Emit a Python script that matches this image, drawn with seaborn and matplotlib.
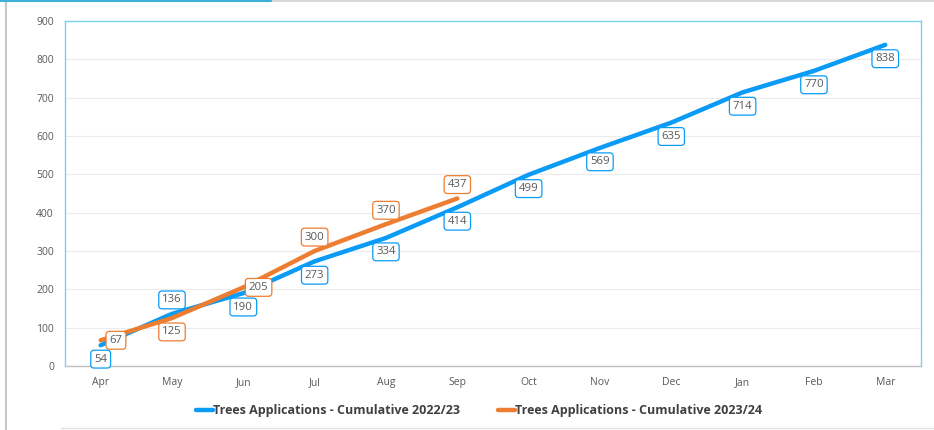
import matplotlib
matplotlib.use("Agg")
import matplotlib.pyplot as plt
import pandas as pd
import seaborn as sns

# dados
months = ["Apr", "May", "Jun", "Jul", "Aug", "Sep", "Oct", "Nov", "Dec", "Jan", "Feb", "Mar"]
cum_2223 = [54, 136, 190, 273, 334, 414, 499, 569, 635, 714, 770, 838]
cum_2324 = [67, 125, 205, 300, 370, 437]
label_2223 = "Trees Applications - Cumulative 2022/23"
label_2324 = "Trees Applications - Cumulative 2023/24"

# posicao dos rotulos (dx, dy em pontos)
offs_2223 = [(0, -10), (0, 10), (0, -10), (0, -10), (0, -10), (0, -10),
             (0, -10), (0, -10), (0, -10), (0, -10), (0, -10), (0, -10)]
offs_2324 = [(11, 0), (0, -10), (11, 0), (0, 10), (0, 10), (0, 10)]

blue = "#0A9BF7"
orange = "#ED7D31"

df = pd.concat([
    pd.DataFrame({"mes": months, "valor": cum_2223, "serie": label_2223}),
    pd.DataFrame({"mes": months[:len(cum_2324)], "valor": cum_2324, "serie": label_2324}),
])
df["x"] = df["mes"].map({m: i for i, m in enumerate(months)})

sns.set_style("white")
plt.rcParams["font.family"] = ["Open Sans", "DejaVu Sans"]

fig = plt.figure(figsize=(9.34, 4.3), dpi=100)
ax = fig.add_axes([0.0696, 0.149, 0.9164, 0.802])

sns.lineplot(data=df, x="x", y="valor", hue="serie",
             palette={label_2223: blue, label_2324: orange},
             linewidth=3.2, ax=ax, legend=False)

for serie, vals, offs, col in [(label_2223, cum_2223, offs_2223, blue),
                                (label_2324, cum_2324, offs_2324, orange)]:
    for i, (v, (dx, dy)) in enumerate(zip(vals, offs)):
        ax.annotate(str(v), (i, v), xytext=(dx, dy), textcoords="offset points",
                    ha="center", va="center", fontsize=8.2, color="#595959",
                    bbox=dict(boxstyle="round,pad=0.3,rounding_size=0.3",
                              fc="white", ec=col, lw=0.9))

ax.set_xlim(-0.5, len(months) - 0.5)
ax.set_ylim(0, 900)
ax.set_xticks(range(len(months)))
ax.set_xticklabels(months)
ax.set_yticks(range(0, 901, 100))
ax.tick_params(axis="both", labelsize=7.5, colors="#595959", length=0, pad=8)
ax.yaxis.grid(True, color="#EBEBEB", lw=0.8)
ax.set_axisbelow(True)
ax.set_xlabel("")
ax.set_ylabel("")
for s in ax.spines.values():
    s.set_color("#7FD0F0")
    s.set_linewidth(1.0)
ax.spines["bottom"].set_color("#BFBFBF")

# legenda
h1, = ax.plot([], [], color=blue, lw=3.2)
h2, = ax.plot([], [], color=orange, lw=3.2)
leg = fig.legend([h1, h2], [label_2223, label_2324], loc="center",
                 bbox_to_anchor=(0.513, 0.045), ncol=2, frameon=False,
                 handlelength=1.33, handletextpad=0.0, columnspacing=3.1,
                 prop={"size": 9, "weight": "bold"})
for t in leg.get_texts():
    t.set_color("#404040")

# moldura
fig.add_artist(plt.Line2D([0.006, 0.006], [0.0, 0.995], color="#C8C8C8", lw=1.5, transform=fig.transFigure))
fig.add_artist(plt.Line2D([0.0, 1.0], [0.997, 0.997], color="#D0D0D0", lw=1.2, transform=fig.transFigure))
fig.add_artist(plt.Line2D([0.0, 0.29], [0.998, 0.998], color="#3BB0D8", lw=1.5, transform=fig.transFigure))
fig.add_artist(plt.Line2D([0.065, 1.0], [0.005, 0.005], color="#E0E0E0", lw=1.0, transform=fig.transFigure))

fig.savefig("out.png", dpi=100)
